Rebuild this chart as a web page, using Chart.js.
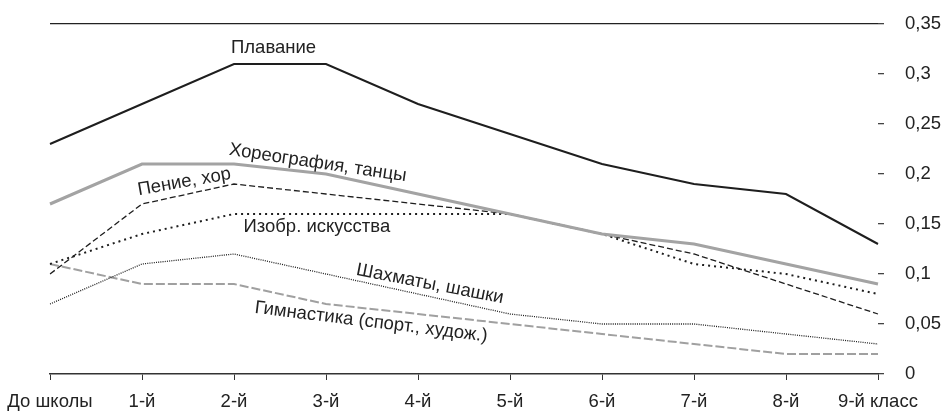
<!DOCTYPE html>
<html>
<head>
<meta charset="utf-8">
<script src="https://cdn.jsdelivr.net/npm/chart.js@4.4.0/dist/chart.umd.min.js"></script>
<style>
  html, body { margin: 0; padding: 0; background: #fff; }
  #wrap { width: 949px; height: 411px; }
</style>
</head>
<body>
<div id="wrap"><canvas id="chart-area-line"></canvas></div>
<script>
    var classLabels = ['До школы', '1-й', '2-й', '3-й', '4-й', '5-й', '6-й', '7-й', '8-й', '9-й класс'];

    var swimming = [0.23, 0.27, 0.31, 0.31, 0.27, 0.24, 0.21, 0.19, 0.18, 0.13];
    var dance = [0.17, 0.21, 0.21, 0.20, 0.18, 0.16, 0.14, 0.13, 0.11, 0.09];
    var singing = [0.10, 0.17, 0.19, 0.18, 0.17, 0.16, 0.14, 0.12, 0.09, 0.06];
    var art = [0.11, 0.14, 0.16, 0.16, 0.16, 0.16, 0.14, 0.11, 0.10, 0.08];
    var chess = [0.07, 0.11, 0.12, 0.10, 0.08, 0.06, 0.05, 0.05, 0.04, 0.03];
    var gymnastics = [0.11, 0.09, 0.09, 0.07, 0.06, 0.05, 0.04, 0.03, 0.02, 0.02];

    var yTicks = [0, 0.05, 0.1, 0.15, 0.2, 0.25, 0.3, 0.35];

    // text labels placed at (category index, value), with rotation in degrees
    var seriesNotes = [
        { text: 'Плавание', at: [2.43, 0.326], angle: 0 },
        { text: 'Хореография, танцы', at: [2.91, 0.211], angle: 8.5 },
        { text: 'Пение, хор', at: [1.46, 0.192], angle: -10 },
        { text: 'Изобр. искусства', at: [2.90, 0.147], angle: 0 },
        { text: 'Шахматы, шашки', at: [4.13, 0.090], angle: 11 },
        { text: 'Гимнастика (спорт., худож.)', at: [3.49, 0.052], angle: 7 }
    ];

    var fontFamily = '"Liberation Sans Narrow", "Liberation Sans", Arial, sans-serif';
    var fontSize = 18.5;

    var notesPlugin = {
        id: 'notes',
        afterDatasetsDraw: function(chart) {
            var ctx = chart.ctx;
            var xs = chart.scales.x, ys = chart.scales.y;
            ctx.save();
            ctx.font = fontSize + 'px ' + fontFamily;
            ctx.fillStyle = '#222';
            ctx.textAlign = 'center';
            ctx.textBaseline = 'middle';
            seriesNotes.forEach(function(n) {
                var i = Math.floor(n.at[0]);
                var f = n.at[0] - i;
                var px = xs.getPixelForValue(i) + f * (xs.getPixelForValue(i + 1) - xs.getPixelForValue(i));
                var py = ys.getPixelForValue(n.at[1]);
                ctx.save();
                ctx.translate(px, py);
                ctx.rotate(n.angle * Math.PI / 180);
                ctx.fillText(n.text, 0, 0);
                ctx.restore();
            });
            ctx.restore();
        }
    };

    function lineSet(label, data, color, width, dash) {
        return {
            label: label,
            data: data,
            borderColor: color,
            borderWidth: width,
            borderDash: dash,
            pointRadius: 0,
            tension: 0,
            fill: false
        };
    }

    var configLinechart = {
        type: 'line',
        data: {
            labels: classLabels,
            datasets: [
                lineSet('Плавание', swimming, '#1e1e1e', 2, []),
                lineSet('Хореография, танцы', dance, '#a3a3a3', 3, []),
                lineSet('Пение, хор', singing, '#1e1e1e', 1.3, [6, 3]),
                lineSet('Изобр. искусства', art, '#1e1e1e', 2, [2, 4]),
                lineSet('Шахматы, шашки', chess, '#1e1e1e', 1.3, [1, 1.2]),
                lineSet('Гимнастика (спорт., худож.)', gymnastics, '#a0a0a0', 2, [9, 3])
            ]
        },
        options: {
            responsive: true,
            maintainAspectRatio: false,
            animation: false,
            layout: { padding: { left: 50, right: 0, top: 24, bottom: 0 } },
            plugins: {
                legend: { display: false },
                tooltip: { enabled: false }
            },
            scales: {
                x: {
                    type: 'category',
                    offset: false,
                    afterFit: function(axis) {
                        axis.height = 37;
                        axis.paddingLeft = 0;
                        axis.paddingRight = 0;
                    },
                    grid: {
                        offset: false,
                        drawOnChartArea: false,
                        drawTicks: true,
                        tickLength: 6,
                        tickColor: '#333'
                    },
                    border: { display: true, color: '#333', width: 1.5 },
                    ticks: {
                        color: '#222',
                        padding: 11,
                        maxRotation: 0,
                        autoSkip: false,
                        font: { family: fontFamily, size: fontSize }
                    }
                },
                y: {
                    position: 'right',
                    min: 0,
                    max: 0.35,
                    afterBuildTicks: function(axis) {
                        axis.ticks = yTicks.map(function(v) { return { value: v }; });
                    },
                    afterFit: function(axis) {
                        axis.width = 71;
                        axis.paddingTop = 0;
                        axis.paddingBottom = 0;
                    },
                    grid: {
                        color: function(c) { return c.tick && c.tick.value === 0.35 ? '#222' : 'rgba(0,0,0,0)'; },
                        lineWidth: 1.3,
                        drawTicks: true,
                        tickLength: 6,
                        tickColor: '#444'
                    },
                    border: { display: false },
                    ticks: {
                        color: '#222',
                        padding: 21,
                        crossAlign: 'near',
                        font: { family: fontFamily, size: fontSize },
                        callback: function(v) { return String(v).replace('.', ','); }
                    }
                }
            }
        },
        plugins: [notesPlugin]
    };

    window.onload = function() {
        var ctxlinechart = document.getElementById('chart-area-line').getContext('2d');
        window.myLine = new Chart(ctxlinechart, configLinechart);
    };
</script>
</body>
</html>
